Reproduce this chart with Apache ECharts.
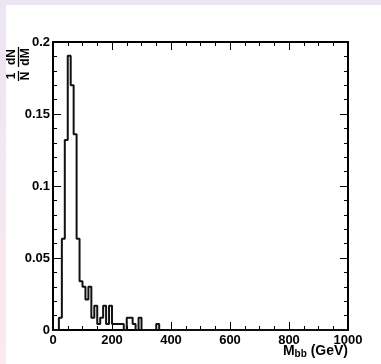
<!DOCTYPE html>
<html>
<head>
<meta charset="utf-8">
<script src="https://cdn.jsdelivr.net/npm/echarts@6/dist/echarts.min.js"></script>
<style>
html,body{margin:0;padding:0;background:#fff;}
#chart{position:absolute;left:0;top:0;width:381px;height:364px;
background:
 linear-gradient(#ece6f4,#ece6f4) left top / 100% 5px no-repeat,
 linear-gradient(to bottom,#ebe5f4,#fce9ee) left top / 6px 100% no-repeat,
 #ffffff;}
</style>
</head>
<body>
<div id="chart"></div>
<script>
// Histogram: M_bb in 10 GeV bins from 0 to 1000 GeV, normalized (1/N dN/dM)
const binWidth = 10;
const xMin = 0, xMax = 1000;
const values = [
  0, 0, 0.0085, 0.0633, 0.1320, 0.1905, 0.1700, 0.1360, 0.0633, 0.0338,
  0.0300, 0.0211, 0.0300, 0.0085, 0.0169, 0.0042, 0.0085, 0.0169, 0.0042, 0.0169,
  0.0042, 0.0042, 0.0042, 0.0042, 0, 0.0085, 0.0085, 0.0042, 0, 0.0085,
  0, 0, 0, 0, 0, 0.0042, 0, 0, 0, 0,
  0, 0, 0, 0, 0, 0, 0, 0, 0, 0,
  0, 0, 0, 0, 0, 0, 0, 0, 0, 0,
  0, 0, 0, 0, 0, 0, 0, 0, 0, 0,
  0, 0, 0, 0, 0, 0, 0, 0, 0, 0,
  0, 0, 0, 0, 0, 0, 0, 0, 0, 0,
  0, 0, 0, 0, 0, 0, 0, 0, 0, 0
];
const xTickLabels = ['0', '200', '400', '600', '800', '1000'];
const yTickLabels = ['0', '0.05', '0.1', '0.15', '0.2'];

const histData = values.map((v, i) => [xMin + i * binWidth, v]);
histData.push([xMax, values[values.length - 1]]);

const FONT = 'Liberation Sans, Arial, Helvetica, sans-serif';
const chart = echarts.init(document.getElementById('chart'), null, {renderer: 'canvas'});

function xAxisDef(pos, showLabel) {
  return {
    type: 'value', position: pos, min: xMin, max: xMax, interval: 200,
    axisLine: {show: true, onZero: false, lineStyle: {color: '#000', width: 2}},
    axisTick: {show: true, inside: true, length: 8, lineStyle: {color: '#000', width: 1}},
    minorTick: {show: true, splitNumber: 4, length: 4, lineStyle: {color: '#000', width: 1}},
    splitLine: {show: false}, minorSplitLine: {show: false},
    axisLabel: {show: showLabel, color: '#000', fontWeight: 'bold', fontSize: 13, fontFamily: FONT, margin: 4,
      formatter: v => xTickLabels[Math.round(v / 200)]}
  };
}
function yAxisDef(pos, showLabel) {
  return {
    type: 'value', position: pos, min: 0, max: 0.2, interval: 0.05,
    axisLine: {show: true, onZero: false, lineStyle: {color: '#000', width: 2}},
    axisTick: {show: true, inside: true, length: 8, lineStyle: {color: '#000', width: 1}},
    minorTick: {show: true, splitNumber: 5, length: 4, lineStyle: {color: '#000', width: 1}},
    splitLine: {show: false}, minorSplitLine: {show: false},
    axisLabel: {show: showLabel, color: '#000', fontWeight: 'bold', fontSize: 13, fontFamily: FONT, margin: 3,
      formatter: v => yTickLabels[Math.round(v / 0.05)]}
  };
}

const titleFont = 'bold 12px ' + FONT;
chart.setOption({
  backgroundColor: 'transparent',
  animation: false,
  grid: {left: 53, right: 33, top: 42, bottom: 34, containLabel: false},
  xAxis: [xAxisDef('bottom', true), xAxisDef('top', false)],
  yAxis: [yAxisDef('left', true), yAxisDef('right', false)],
  series: [{
    type: 'line', xAxisIndex: 0, yAxisIndex: 0, step: 'end', symbol: 'none',
    data: histData, lineStyle: {color: '#111', width: 2}, z: 1
  }],
  graphic: [
    {
      type: 'text', right: 33, top: 344,
      style: {
        rich: {
          m: {fontSize: 14, fontWeight: 'bold', fontFamily: FONT, fill: '#000'},
          s: {fontSize: 10, fontWeight: 'bold', fontFamily: FONT, fill: '#000', padding: [6, 0, 0, 0]}
        },
        text: '{m|M}{s|bb}{m| (GeV)}'
      }
    },
    {
      type: 'group', x: 18.5, y: 64, rotation: Math.PI / 2,
      children: [
        {type: 'text', style: {text: '1', x: -12, y: -1, align: 'center', verticalAlign: 'bottom', font: titleFont, fill: '#000'}},
        {type: 'text', style: {text: 'N', x: -12, y: 1, align: 'center', verticalAlign: 'top', font: titleFont, fill: '#000'}},
        {type: 'line', shape: {x1: -17, y1: 0, x2: -7, y2: 0}, style: {stroke: '#000', lineWidth: 1.3}},
        {type: 'text', style: {text: 'dN', x: 7, y: -1, align: 'center', verticalAlign: 'bottom', font: titleFont, fill: '#000'}},
        {type: 'text', style: {text: 'dM', x: 7, y: 1, align: 'center', verticalAlign: 'top', font: titleFont, fill: '#000'}},
        {type: 'line', shape: {x1: -3, y1: 0, x2: 17, y2: 0}, style: {stroke: '#000', lineWidth: 1.3}}
      ]
    }
  ]
});
</script>
</body>
</html>
